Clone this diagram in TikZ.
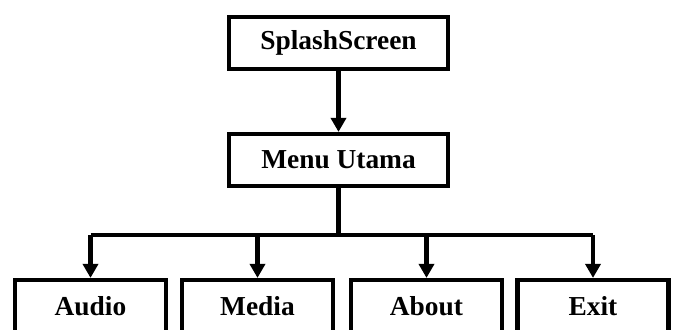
\documentclass[tikz,border=0pt]{standalone}
\usepackage{fontspec}
\setmainfont{Liberation Serif}
\usepackage{tikz}
\usetikzlibrary{
    arrows.meta,
    positioning
}
\tikzstyle{menubox} = [
    rectangle, draw,
    line width=4.2bp,
    minimum width=219bp,
    minimum height=52bp,
    text centered,
    align=center,
    draw=black,
    font=\fontsize{27.5}{30}\selectfont\bfseries
]
\tikzstyle{subbox} = [
    menubox,
    minimum width=151bp
]
\tikzstyle{arrow} = [
    line width=4.2bp,
    -{Triangle[width=15bp,length=14bp]}
]
\tikzstyle{line} = [
    line width=4.2bp
]

\begin{document}
\begin{tikzpicture}[x=1bp, y=-1bp]
\useasboundingbox (0,0) rectangle (677,329);

\node (splash) [menubox] at (338.5,43) {SplashScreen};
\node (menu) [menubox] at (338.5,160) {Menu Utama};

\node (audio) [subbox] at (90.5,306) {Audio};
\node (media) [subbox] at (257.5,306) {Media};
\node (about) [subbox] at (426.5,306) {About};
\node (exit) [subbox] at (593,306) {Exit};

\draw [arrow] (splash) -- (menu);

% percabangan menu
\coordinate (bus) at (338.5,235);
\draw [line] (menu.south) -- (bus);
\draw [line] (audio.north |- bus) -- (exit.north |- bus);
\draw [arrow] (audio.north |- bus) -- (audio.north);
\draw [arrow] (media.north |- bus) -- (media.north);
\draw [arrow] (about.north |- bus) -- (about.north);
\draw [arrow] (exit.north |- bus) -- (exit.north);

\end{tikzpicture}
\end{document}
